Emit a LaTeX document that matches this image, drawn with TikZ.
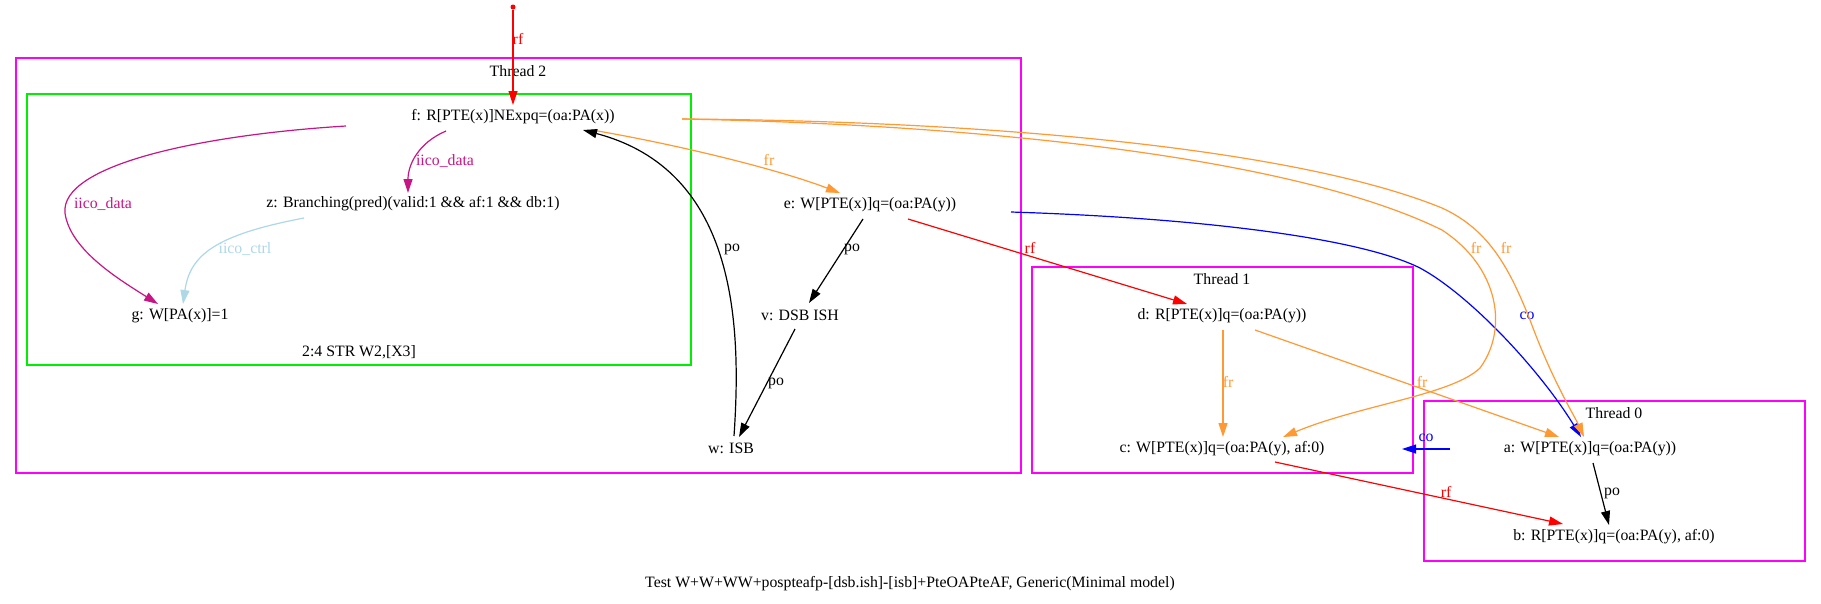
\documentclass[tikz,border=0pt]{standalone}
\usepackage{fontspec}
\setmainfont{Liberation Serif}
\usetikzlibrary{arrows.meta,calc}
\definecolor{thrcol}{RGB}{255,0,255}
\definecolor{grncol}{RGB}{0,238,0}
\definecolor{frcol}{RGB}{255,153,51}
\definecolor{iicod}{RGB}{199,21,133}
\definecolor{iicoc}{RGB}{173,216,230}
\definecolor{rfcol}{RGB}{255,0,0}
\definecolor{cocol}{RGB}{0,0,255}
\tikzset{
  ev/.style={inner sep=0pt, font=\fontsize{15.8}{18}\selectfont},
  lbl/.style={inner sep=0pt, font=\fontsize{15.8}{18}\selectfont},
  edge/.style={line width=1.2pt, -{Triangle[length=14pt,width=9pt]}},
  rfedge/.style={edge, draw=rfcol},
  coedge/.style={edge, draw=cocol},
  fredge/.style={edge, draw=frcol},
  poedge/.style={edge, draw=black},
  iddedge/.style={edge, draw=iicod},
  icedge/.style={edge, draw=iicoc},
  thrbox/.style={draw=thrcol, line width=1.2pt},
  grnbox/.style={draw=grncol, line width=1.2pt}
}
\begin{document}
\begin{tikzpicture}[x=1pt,y=-1pt]
\useasboundingbox (0,0) rectangle (1821,603);
\fill[white] (0,0) rectangle (1821,603);
% clusters
\draw[thrbox] (16,58) rectangle (1021,473);
\node[lbl] (t2) at (518,71) {Thread 2};
\draw[grnbox] (27,94) rectangle (691,365);
\node[lbl] (gl) at (359,352) {2:4 STR W2,[X3]};
\draw[thrbox] (1032,267) rectangle (1413,473);
\node[lbl] (t1) at (1222,279) {Thread 1};
\draw[thrbox] (1424,401) rectangle (1805,561);
\node[lbl] (t0) at (1614,413) {Thread 0};
% events
\node[ev] (f) at (513,117) {f: R[PTE(x)]NExpq=(oa:PA(x))};
\node[ev] (z) at (413,204) {z: Branching(pred)(valid:1 \&\& af:1 \&\& db:1)};
\node[ev] (g) at (180,316) {g: W[PA(x)]=1};
\node[ev] (e) at (870,205) {e: W[PTE(x)]q=(oa:PA(y))};
\node[ev] (v) at (800,315) {v: DSB ISH};
\node[ev] (w) at (731,448) {w: ISB};
\node[ev] (d) at (1222,316) {d: R[PTE(x)]q=(oa:PA(y))};
\node[ev] (c) at (1222,449) {c: W[PTE(x)]q=(oa:PA(y), af:0)};
\node[ev] (a) at (1590,449) {a: W[PTE(x)]q=(oa:PA(y))};
\node[ev] (b) at (1614,537) {b: R[PTE(x)]q=(oa:PA(y), af:0)};
\node[lbl] (cap) at (910,584) {Test W+W+WW+pospteafp-[dsb.ish]-[isb]+PteOAPteAF, Generic(Minimal model)};
% initial write
\node[circle, fill=rfcol, inner sep=0pt, minimum size=5pt] (src) at (513,7) {};
\draw[rfedge] (src) -- ($(f)+(0,-12)$);
\node[lbl, text=rfcol] (l1) at (518,39) {rf};
% iico
\draw[iddedge] ($(f)+(-167,9)$) .. controls (200,135) and (60,165) .. (65,213) .. controls (70,250) and (120,280) .. ($(g)+(-22,-12)$);
\node[lbl, text=iicod] (l2) at (103,204) {iico\_data};
\draw[iddedge] ($(f)+(-67,14)$) .. controls (418,143) and (408,165) .. ($(z)+(-5,-11)$);
\node[lbl, text=iicod] (l3) at (445,161) {iico\_data};
\draw[icedge] ($(z)+(-109,14)$) .. controls (215,235) and (190,255) .. ($(g)+(3,-12)$);
\node[lbl, text=iicoc] (l4) at (245,249) {iico\_ctrl};
% thread 2 po / fr
\draw[fredge] ($(f)+(79,13)$) .. controls (680,145) and (780,170) .. ($(e)+(-30,-12)$);
\node[lbl, text=frcol] (l5) at (769,160) {fr};
\draw[poedge] ($(e)+(-7,14)$) -- ($(v)+(9,-12)$);
\node[lbl] (l6) at (852,249) {po};
\draw[poedge] ($(v)+(-5,14)$) -- ($(w)+(8,-11)$);
\node[lbl] (l7) at (776,383) {po};
\draw[poedge] ($(w)+(3,-12)$) .. controls (742,320) and (735,170) .. ($(f)+(70,13)$);
\node[lbl] (l8) at (732,249) {po};
% cross-thread
\draw[rfedge] ($(e)+(38,14)$) -- ($(d)+(-35,-12)$);
\node[lbl, text=rfcol] (l9) at (1030,248) {rf};
\draw[coedge] ($(e)+(141,7)$) .. controls (1200,218) and (1360,238) .. (1420,268) .. controls (1470,295) and (1540,370) .. ($(a)+(-9,-12)$);
\node[lbl, text=cocol] (l10) at (1527,316) {co};
\draw[fredge] ($(f)+(169,2)$) .. controls (1000,125) and (1300,160) .. (1442,230) .. controls (1500,268) and (1508,330) .. (1480,368) .. controls (1452,395) and (1360,405) .. ($(c)+(61,-12)$);
\node[lbl, text=frcol] (l11) at (1476,248) {fr};
\draw[fredge] ($(f)+(169,2)$) .. controls (1000,121) and (1300,150) .. (1442,208) .. controls (1490,230) and (1510,270) .. (1530,320) .. controls (1552,380) and (1574,415) .. ($(a)+(-6,-12)$);
\node[lbl, text=frcol] (l12) at (1506,248) {fr};
% thread 1
\draw[fredge] ($(d)+(1,14)$) -- ($(c)+(1,-12)$);
\node[lbl, text=frcol] (l13) at (1228,382) {fr};
\draw[fredge] ($(d)+(33,14)$) -- ($(a)+(-31,-12)$);
\node[lbl, text=frcol] (l14) at (1422,382) {fr};
% thread 0
\draw[coedge] ($(a)+(-140,0)$) -- ($(c)+(180,0)$);
\node[lbl, text=cocol] (l15) at (1426,438) {co};
\draw[poedge] ($(a)+(3,14)$) -- ($(b)+(-5,-12)$);
\node[lbl] (l16) at (1612,493) {po};
\draw[rfedge] ($(c)+(53,13)$) -- ($(b)+(-51,-13)$);
\node[lbl, text=rfcol] (l17) at (1446,492) {rf};
\end{tikzpicture}
\end{document}
